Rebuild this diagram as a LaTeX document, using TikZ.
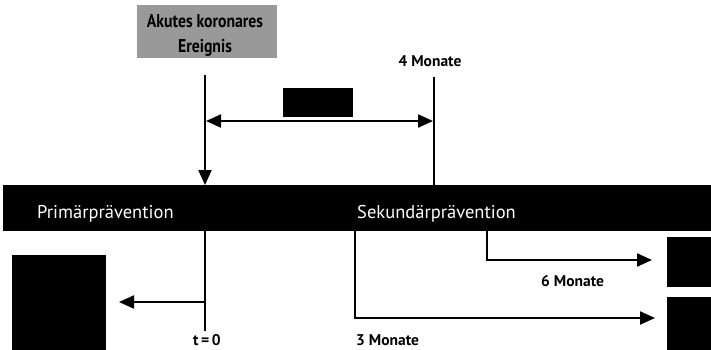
\documentclass[tikz,border=0pt]{standalone}
\usepackage{fontspec}
\setmainfont{PT Sans}
\usetikzlibrary{arrows.meta}
\begin{document}
\begin{tikzpicture}[x=1pt,y=-1pt,
  ln/.style={line width=2.2pt},
  arr/.style={line width=2.2pt,-{Triangle[length=15pt,width=13pt]}},
  darr/.style={line width=2.2pt,{Triangle[length=15pt,width=13pt]}-{Triangle[length=15pt,width=13pt]}},
  blk/.style={fill=black,draw=none,inner sep=0pt},
  lab/.style={font=\bfseries\fontsize{15.5}{17}\selectfont,inner sep=0pt},
  evtext/.style={inner sep=0pt,anchor=base,font=\bfseries\fontsize{18.5}{20}\selectfont},
  bartext/.style={text=white,font=\fontsize{18.5}{20}\selectfont,inner sep=0pt,anchor=base west}]
\useasboundingbox (0,0) rectangle (711,349);
% gray event box
\node[fill=black!40,inner sep=0pt,minimum width=140pt,minimum height=53pt,anchor=north west] (ev) at (137,5) {};
\node[evtext] (ev1) at (205,27) {\scalebox{0.85}[1]{Akutes koronares}};
\node[evtext] (ev2) at (205,52) {\scalebox{0.85}[1]{Ereignis}};
% label 4 Monate
\node[lab,anchor=base] (m4) at (430,66) {4 Monate};
% small black box
\node[blk,minimum width=70pt,minimum height=29pt,anchor=north west] (sb) at (283,88) {};
% main bar
\node[blk,minimum width=708pt,minimum height=46pt,anchor=north west] (bar) at (3,185) {};
\node[bartext] (prim) at (37,218) {Primärprävention};
\node[bartext] (sek) at (357,218) {Sekundärprävention};
% vertical lines above bar
\coordinate (lt) at (205,75);
\coordinate (rt) at (434,77);
\draw[arr] (lt) -- (lt |- bar.north);
\draw[ln] (rt) -- (rt |- bar.north);
\coordinate (dl) at (206,121);
\coordinate (dr) at (433,121);
\draw[darr] (dl) -- (dr);
% left black box
\node[blk,minimum width=94pt,minimum height=95pt,anchor=north west] (lb) at (12,255) {};
% right black boxes
\node[blk,minimum width=44pt,minimum height=50pt,anchor=north west] (rb1) at (667,237) {};
\node[blk,minimum width=44pt,minimum height=53pt,anchor=north west] (rb2) at (667,297) {};
% t=0 line
\coordinate (t0b) at (205,331);
\draw[ln] (t0b |- bar.south) -- (t0b);
\coordinate (t0m) at (205,302);
\coordinate (t0e) at (119,302);
\draw[arr] (t0m) -- (t0e);
\node[lab,anchor=base] (t0) at (207,345) {t\,=\,0};
% 3 Monate
\coordinate (m3c) at (355,318);
\coordinate (m3e) at (655,318);
\draw[arr] (m3c |- bar.south) -- (m3c) -- (m3e);
\node[lab,anchor=base west] (m3) at (356,345) {3 Monate};
% 6 Monate
\coordinate (m6c) at (487,260);
\coordinate (m6e) at (652,260);
\draw[arr] (m6c |- bar.south) -- (m6c) -- (m6e);
\node[lab,anchor=base west] (m6) at (541,286) {6 Monate};
\end{tikzpicture}
\end{document}
